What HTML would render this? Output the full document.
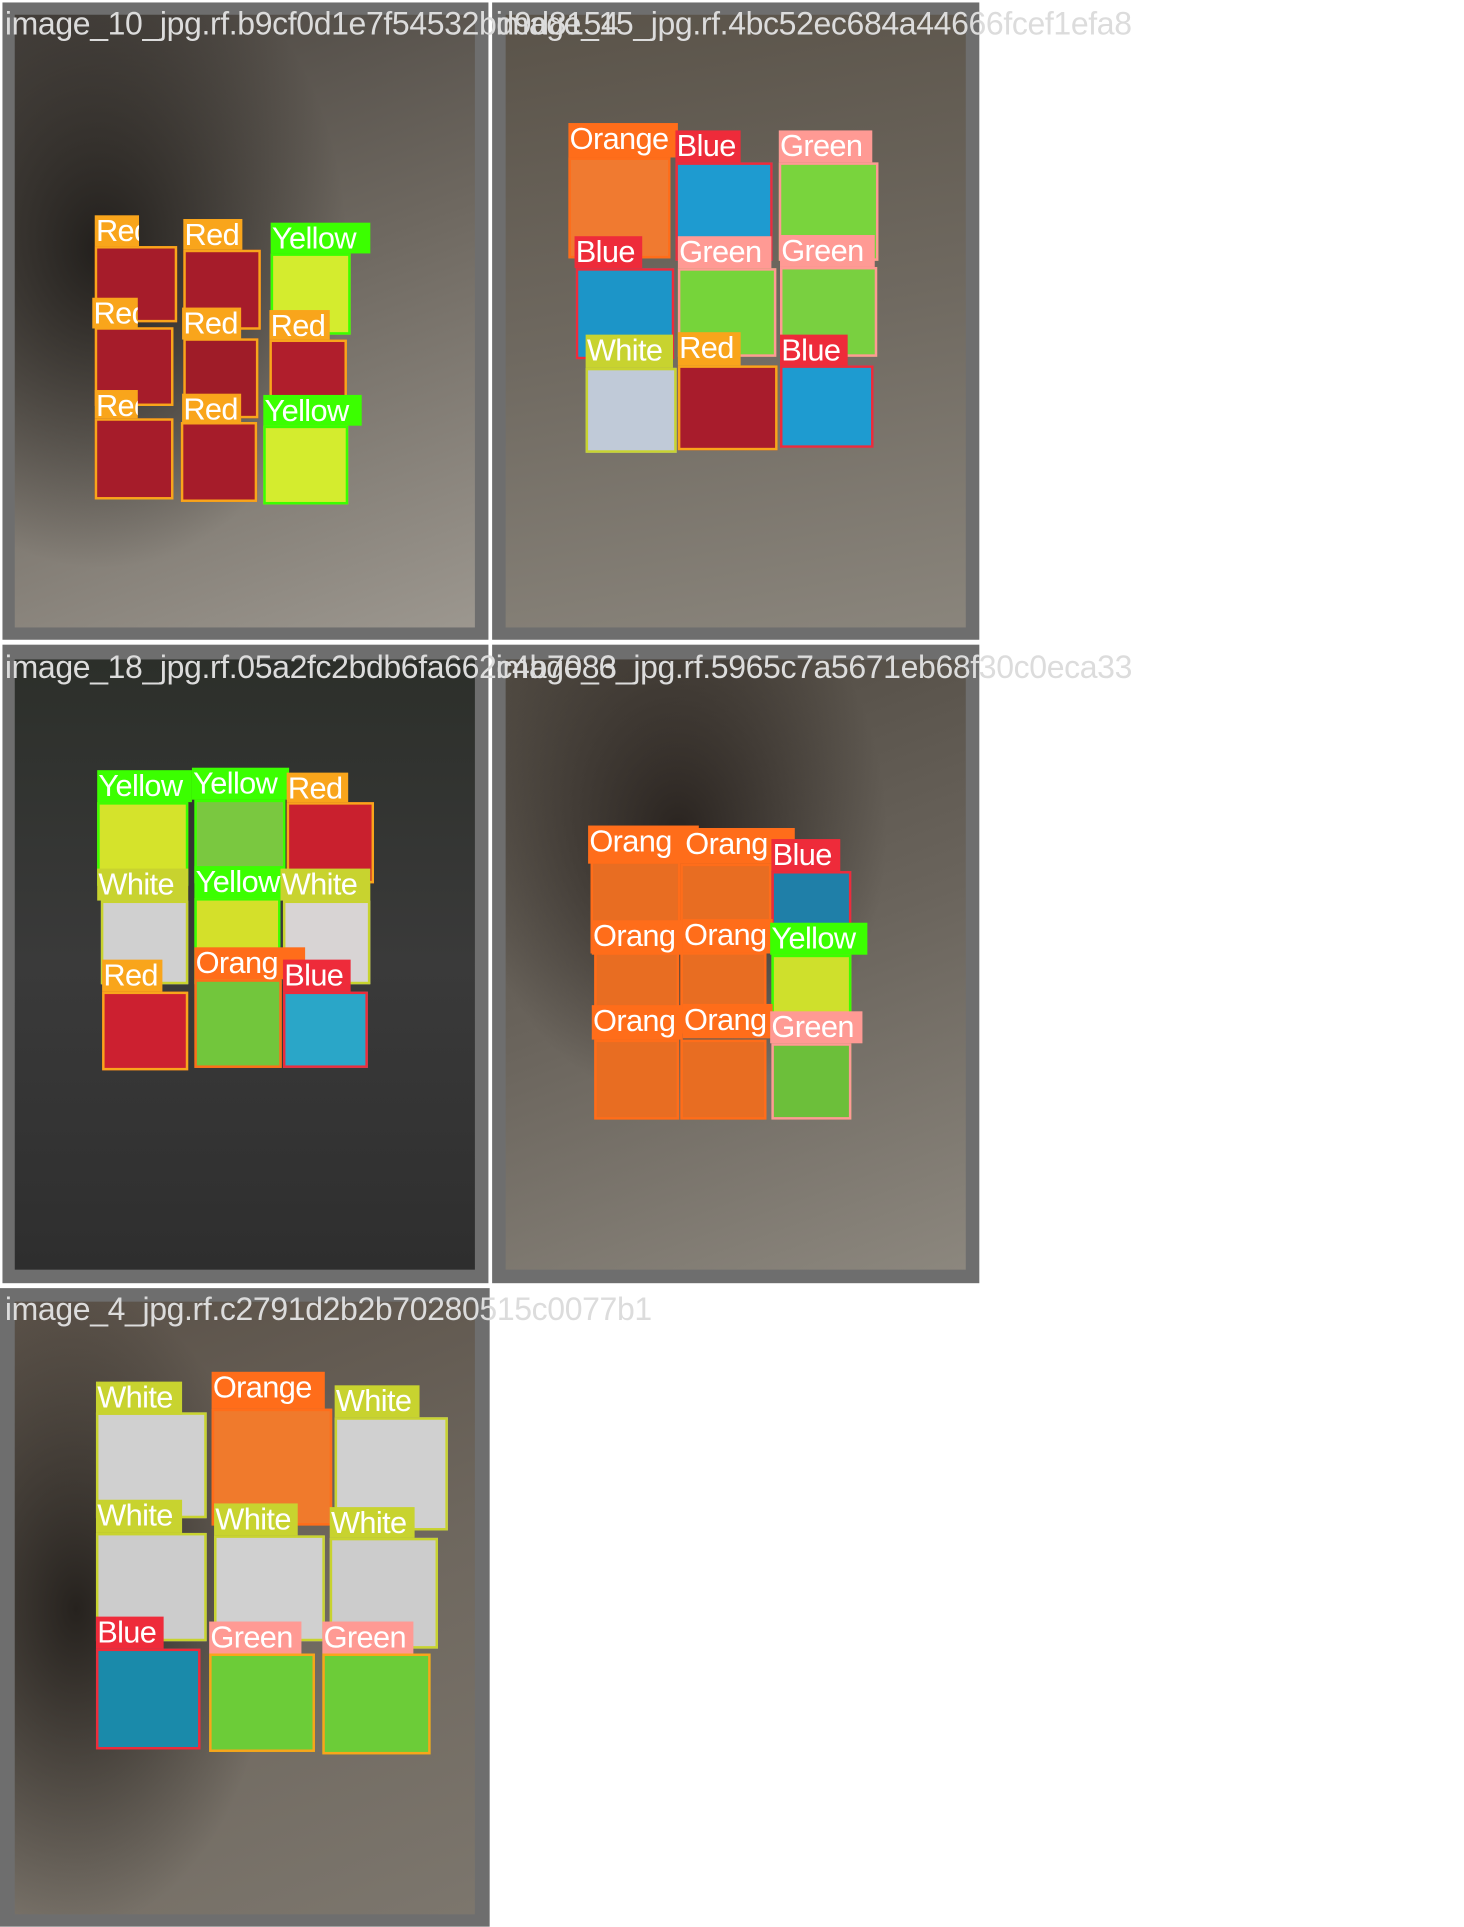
<!DOCTYPE html>
<html><head><meta charset="utf-8"><style>
html,body{margin:0;padding:0;background:#fff;width:1464px;height:1920px;overflow:hidden}
#w{position:absolute;left:0;top:0;width:1190px;height:1561px;transform:scale(1.2303);transform-origin:0 0;font-family:"Liberation Sans",sans-serif}
.g{position:absolute;background:#6e6e6e}
.p{position:absolute;overflow:hidden}
.t{position:absolute;color:#dcdcdc;font-size:26px;white-space:nowrap;line-height:28px;letter-spacing:-0.3px}
.c{position:absolute;box-sizing:border-box;border:2px solid}
.l{position:absolute;color:#fff;font-size:25px;white-space:nowrap;overflow:hidden;line-height:27px;padding-left:1px;box-sizing:border-box;letter-spacing:-0.5px}
</style></head><body><div id="w">
<div class="g" style="left:2px;top:2px;width:395px;height:518px"></div>
<div class="p" style="left:12px;top:12px;width:374px;height:498px;background:radial-gradient(ellipse 200px 260px at 70px 190px,#221f1c,rgba(60,55,50,0) 100%),linear-gradient(160deg,#4a4540 0%,#6e6860 45%,#9c978f 100%)"></div>
<div class="g" style="left:400px;top:2px;width:396px;height:518px"></div>
<div class="p" style="left:411px;top:12px;width:374px;height:498px;background:linear-gradient(170deg,#5a5349 0%,#6f6960 50%,#8a857c 100%)"></div>
<div class="g" style="left:2px;top:524px;width:395px;height:519px"></div>
<div class="p" style="left:12px;top:536px;width:374px;height:496px;background:linear-gradient(180deg,#2c2f2a 0%,#3a3a3a 50%,#2e2e2e 100%)"></div>
<div class="g" style="left:400px;top:524px;width:396px;height:519px"></div>
<div class="p" style="left:411px;top:536px;width:374px;height:496px;background:radial-gradient(ellipse 170px 220px at 140px 140px,#2a2420,rgba(60,55,50,0) 100%),linear-gradient(160deg,#4e4840,#6a645c 50%,#8c877e 100%)"></div>
<div class="g" style="left:0px;top:1047px;width:398px;height:519px"></div>
<div class="p" style="left:12px;top:1058px;width:374px;height:498px;background:radial-gradient(ellipse 160px 260px at 50px 250px,#26221e,rgba(60,55,50,0) 100%),linear-gradient(160deg,#5a5148,#6e675e 50%,#7c766d 100%)"></div>

<div class="c" style="left:77px;top:200px;width:67px;height:62px;border-color:#f9a51b;background:#a61c2a"></div>
<div class="c" style="left:149px;top:203px;width:63px;height:65px;border-color:#f9a51b;background:#a61c2a"></div>
<div class="c" style="left:220px;top:206px;width:65px;height:66px;border-color:#3bff00;background:#d4ec2e"></div>
<div class="c" style="left:77px;top:266px;width:64px;height:64px;border-color:#f9a51b;background:#a61c2a"></div>
<div class="c" style="left:149px;top:275px;width:61px;height:65px;border-color:#f9a51b;background:#9f1c28"></div>
<div class="c" style="left:219px;top:276px;width:63px;height:64px;border-color:#f9a51b;background:#b01e2c"></div>
<div class="c" style="left:77px;top:340px;width:64px;height:66px;border-color:#f9a51b;background:#a61c2a"></div>
<div class="c" style="left:147px;top:343px;width:62px;height:65px;border-color:#f9a51b;background:#a61c2a"></div>
<div class="c" style="left:214px;top:346px;width:69px;height:64px;border-color:#3bff00;background:#d4ec2e"></div>
<div class="l" style="left:77px;top:175px;width:36px;height:25px;background:#f9a51b">Red</div>
<div class="l" style="left:149px;top:178px;width:48px;height:25px;background:#f9a51b">Red</div>
<div class="l" style="left:220px;top:181px;width:81px;height:25px;background:#3bff00">Yellow</div>
<div class="l" style="left:75px;top:242px;width:37px;height:25px;background:#f9a51b">Red</div>
<div class="l" style="left:148px;top:250px;width:48px;height:26px;background:#f9a51b">Red</div>
<div class="l" style="left:219px;top:252px;width:49px;height:24px;background:#f9a51b">Red</div>
<div class="l" style="left:77px;top:317px;width:35px;height:23px;background:#f9a51b">Red</div>
<div class="l" style="left:148px;top:320px;width:48px;height:25px;background:#f9a51b">Red</div>
<div class="l" style="left:214px;top:321px;width:80px;height:25px;background:#3bff00">Yellow</div>

<div class="c" style="left:462px;top:128px;width:83px;height:82px;border-color:#ff6d1a;background:#f07a30"></div>
<div class="c" style="left:549px;top:132px;width:79px;height:80px;border-color:#ee2b3a;background:#1e9bd0"></div>
<div class="c" style="left:633px;top:132px;width:81px;height:80px;border-color:#ff9a94;background:#79d43d"></div>
<div class="c" style="left:468px;top:218px;width:80px;height:74px;border-color:#ee2b3a;background:#1c95c8"></div>
<div class="c" style="left:551px;top:218px;width:80px;height:72px;border-color:#ff9a94;background:#76d43a"></div>
<div class="c" style="left:634px;top:217px;width:79px;height:73px;border-color:#ff9a94;background:#79d040"></div>
<div class="c" style="left:476px;top:299px;width:74px;height:69px;border-color:#c8d32f;background:#c0cad8"></div>
<div class="c" style="left:551px;top:297px;width:81px;height:69px;border-color:#f9a51b;background:#a81c2c"></div>
<div class="c" style="left:634px;top:297px;width:76px;height:67px;border-color:#ee2b3a;background:#1e9bd0"></div>
<div class="l" style="left:462px;top:100px;width:89px;height:28px;background:#ff6d1a">Orange</div>
<div class="l" style="left:549px;top:106px;width:53px;height:26px;background:#ee2b3a">Blue</div>
<div class="l" style="left:633px;top:106px;width:76px;height:26px;background:#ff9a94">Green</div>
<div class="l" style="left:467px;top:192px;width:55px;height:26px;background:#ee2b3a">Blue</div>
<div class="l" style="left:551px;top:192px;width:76px;height:26px;background:#ff9a94">Green</div>
<div class="l" style="left:634px;top:191px;width:77px;height:26px;background:#ff9a94">Green</div>
<div class="l" style="left:476px;top:272px;width:71px;height:27px;background:#c8d32f">White</div>
<div class="l" style="left:551px;top:270px;width:51px;height:27px;background:#f9a51b">Red</div>
<div class="l" style="left:634px;top:272px;width:55px;height:25px;background:#ee2b3a">Blue</div>

<div class="c" style="left:79px;top:652px;width:74px;height:68px;border-color:#3bff00;background:#d5e32b"></div>
<div class="c" style="left:158px;top:650px;width:74px;height:68px;border-color:#3bff00;background:#7ac840"></div>
<div class="c" style="left:233px;top:652px;width:71px;height:66px;border-color:#f9a51b;background:#c9202e"></div>
<div class="c" style="left:82px;top:732px;width:71px;height:68px;border-color:#c8d32f;background:#d0d0d0"></div>
<div class="c" style="left:158px;top:730px;width:70px;height:70px;border-color:#3bff00;background:#d4e02a"></div>
<div class="c" style="left:230px;top:732px;width:71px;height:68px;border-color:#c8d32f;background:#d8d4d4"></div>
<div class="c" style="left:83px;top:806px;width:70px;height:64px;border-color:#f9a51b;background:#cc2030"></div>
<div class="c" style="left:158px;top:796px;width:71px;height:72px;border-color:#ff6d1a;background:#72c63c"></div>
<div class="c" style="left:230px;top:806px;width:69px;height:62px;border-color:#ee2b3a;background:#2aa6c8"></div>
<div class="l" style="left:79px;top:626px;width:77px;height:26px;background:#3bff00">Yellow</div>
<div class="l" style="left:156px;top:624px;width:79px;height:26px;background:#3bff00">Yellow</div>
<div class="l" style="left:233px;top:628px;width:50px;height:24px;background:#f9a51b">Red</div>
<div class="l" style="left:79px;top:706px;width:74px;height:26px;background:#c8d32f">White</div>
<div class="l" style="left:158px;top:704px;width:74px;height:26px;background:#3bff00">Yellow</div>
<div class="l" style="left:228px;top:706px;width:73px;height:26px;background:#c8d32f">White</div>
<div class="l" style="left:83px;top:780px;width:49px;height:26px;background:#f9a51b">Red</div>
<div class="l" style="left:158px;top:770px;width:90px;height:26px;background:#ff6d1a">Orang</div>
<div class="l" style="left:230px;top:780px;width:55px;height:26px;background:#ee2b3a">Blue</div>

<div class="c" style="left:480px;top:700px;width:73px;height:75px;border-color:#ff6d1a;background:#e86d22"></div>
<div class="c" style="left:553px;top:702px;width:74px;height:73px;border-color:#ff6d1a;background:#e86d22"></div>
<div class="c" style="left:627px;top:708px;width:65px;height:68px;border-color:#ee2b3a;background:#1f7fa8"></div>
<div class="c" style="left:483px;top:774px;width:69px;height:66px;border-color:#ff6d1a;background:#e86d22"></div>
<div class="c" style="left:553px;top:774px;width:70px;height:66px;border-color:#ff6d1a;background:#e86d22"></div>
<div class="c" style="left:627px;top:776px;width:65px;height:66px;border-color:#3bff00;background:#cfe02c"></div>
<div class="c" style="left:483px;top:845px;width:69px;height:65px;border-color:#ff6d1a;background:#e86d22"></div>
<div class="c" style="left:553px;top:845px;width:70px;height:65px;border-color:#ff6d1a;background:#e86d22"></div>
<div class="c" style="left:627px;top:848px;width:65px;height:62px;border-color:#ff9a94;background:#6cbf3a"></div>
<div class="l" style="left:478px;top:671px;width:90px;height:31px;background:#ff6d1a">Orang</div>
<div class="l" style="left:556px;top:673px;width:90px;height:29px;background:#ff6d1a">Orang</div>
<div class="l" style="left:627px;top:682px;width:56px;height:26px;background:#ee2b3a">Blue</div>
<div class="l" style="left:481px;top:748px;width:74px;height:28px;background:#ff6d1a">Orang</div>
<div class="l" style="left:555px;top:747px;width:73px;height:27px;background:#ff6d1a">Orang</div>
<div class="l" style="left:626px;top:750px;width:79px;height:26px;background:#3bff00">Yellow</div>
<div class="l" style="left:481px;top:817px;width:74px;height:28px;background:#ff6d1a">Orang</div>
<div class="l" style="left:555px;top:816px;width:73px;height:28px;background:#ff6d1a">Orang</div>
<div class="l" style="left:626px;top:822px;width:75px;height:26px;background:#ff9a94">Green</div>

<div class="c" style="left:78px;top:1148px;width:90px;height:86px;border-color:#c8d32f;background:#d0d0d0"></div>
<div class="c" style="left:172px;top:1145px;width:98px;height:95px;border-color:#ff6d1a;background:#f07a2c"></div>
<div class="c" style="left:272px;top:1152px;width:92px;height:92px;border-color:#c8d32f;background:#d0d0d0"></div>
<div class="c" style="left:78px;top:1246px;width:90px;height:88px;border-color:#c8d32f;background:#cccccc"></div>
<div class="c" style="left:174px;top:1248px;width:90px;height:86px;border-color:#c8d32f;background:#d0d0d0"></div>
<div class="c" style="left:268px;top:1250px;width:88px;height:90px;border-color:#c8d32f;background:#cccccc"></div>
<div class="c" style="left:78px;top:1340px;width:85px;height:82px;border-color:#ee2b3a;background:#1a8aaa"></div>
<div class="c" style="left:170px;top:1344px;width:86px;height:80px;border-color:#f9a51b;background:#6ccc38"></div>
<div class="c" style="left:262px;top:1344px;width:88px;height:82px;border-color:#f9a51b;background:#6ccc38"></div>
<div class="l" style="left:78px;top:1123px;width:70px;height:27px;background:#c8d32f">White</div>
<div class="l" style="left:172px;top:1115px;width:92px;height:30px;background:#ff6d1a">Orange</div>
<div class="l" style="left:272px;top:1126px;width:69px;height:26px;background:#c8d32f">White</div>
<div class="l" style="left:78px;top:1219px;width:70px;height:27px;background:#c8d32f">White</div>
<div class="l" style="left:174px;top:1222px;width:68px;height:26px;background:#c8d32f">White</div>
<div class="l" style="left:268px;top:1225px;width:69px;height:25px;background:#c8d32f">White</div>
<div class="l" style="left:78px;top:1314px;width:55px;height:26px;background:#ee2b3a">Blue</div>
<div class="l" style="left:170px;top:1318px;width:75px;height:26px;background:#ff9a94">Green</div>
<div class="l" style="left:262px;top:1318px;width:74px;height:26px;background:#ff9a94">Green</div>

<div class="t" style="left:4px;top:5px">image_10_jpg.rf.b9cf0d1e7f54532bd9d8154</div>
<div class="t" style="left:403px;top:5px">image_15_jpg.rf.4bc52ec684a44666fcef1efa8</div>
<div class="t" style="left:4px;top:528px">image_18_jpg.rf.05a2fc2bdb6fa662c4b7083</div>
<div class="t" style="left:403px;top:528px">image_6_jpg.rf.5965c7a5671eb68f30c0eca33</div>
<div class="t" style="left:4px;top:1050px">image_4_jpg.rf.c2791d2b2b70280515c0077b1</div>
</div></body></html>
